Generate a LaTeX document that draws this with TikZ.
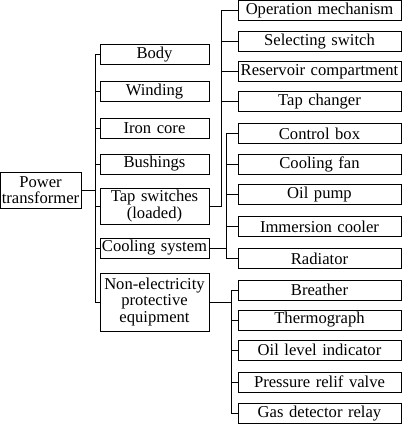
\documentclass[tikz,border=0pt]{standalone}
\usepackage{fontspec}
\setmainfont{Liberation Serif}
\usepackage{tikz}

\begin{document}
\begin{tikzpicture}[x=1pt, y=-1pt, line width=1pt,
    part/.style={draw, inner sep=0pt, align=center, font=\fontsize{16.6}{16.5}\selectfont},
    mid/.style={part, text width=109pt, minimum height=20pt},
    leaf/.style={part, text width=163pt, minimum height=20pt}]
    \useasboundingbox (0,0) rectangle (402,425);

    % Root
    \node[part, text width=81pt, minimum height=36pt] (root) at (40.5,190) {Power\\transformer};

    % Main parts
    \node[mid] (body) at (154.5,55) {Body};
    \node[mid] (winding) at (154.5,92) {Winding};
    \node[mid] (core) at (154.5,128) {Iron core};
    \node[mid] (bushings) at (154.5,164) {Bushings};
    \node[mid, minimum height=36pt] (tapsw) at (154.5,206) {Tap switches\\(loaded)};
    \node[mid] (cooling) at (154.5,248) {Cooling system};
    \node[mid, minimum height=58pt] (nonel) at (154.5,302) {Non-electricity\\protective\\equipment};

    % Tap switch parts
    \node[leaf] (opmech) at (319.5,11) {Operation mechanism};
    \node[leaf] (selsw) at (319.5,42) {Selecting switch};
    \node[leaf] (reservoir) at (319.5,71.5) {Reservoir compartment};
    \node[leaf] (tapch) at (319.5,101.5) {Tap changer};

    % Cooling parts
    \node[leaf] (ctrlbox) at (319.5,133.5) {Control box};
    \node[leaf] (fan) at (319.5,164.5) {Cooling fan};
    \node[leaf] (pump) at (319.5,194.5) {Oil pump};
    \node[leaf] (immersion) at (319.5,226.5) {Immersion cooler};
    \node[leaf] (radiator) at (319.5,258.5) {Radiator};

    % Protective parts
    \node[leaf] (breather) at (319.5,290) {Breather};
    \node[leaf] (thermo) at (319.5,320) {Thermograph};
    \node[leaf] (oillevel) at (319.5,350) {Oil level indicator};
    \node[leaf] (pressure) at (319.5,382) {Pressure relif valve};
    \node[leaf] (gas) at (319.5,413.5) {Gas detector relay};

    % Buses
    \coordinate (trunk) at (95,0);
    \coordinate (tapbus) at (221,0);
    \coordinate (coolbus) at (226,0);
    \coordinate (protbus) at (231,0);

    \draw (root.east) -- (trunk|-root.east);
    \draw (trunk|-body.west) -- (trunk|-nonel.west);
    \foreach \n in {body,winding,core,bushings,tapsw,cooling,nonel}
        \draw (trunk|-\n.west) -- (\n.west);

    \draw (tapsw.east) -- (tapbus|-tapsw.east) -- (tapbus|-opmech.west);
    \foreach \n in {opmech,selsw,reservoir,tapch}
        \draw (tapbus|-\n.west) -- (\n.west);

    \draw (cooling.east) -- (coolbus|-cooling.east);
    \draw (coolbus|-ctrlbox.west) -- (coolbus|-radiator.west);
    \foreach \n in {ctrlbox,fan,pump,immersion,radiator}
        \draw (coolbus|-\n.west) -- (\n.west);

    \draw (nonel.east) -- (protbus|-nonel.east);
    \draw (protbus|-breather.west) -- (protbus|-gas.west);
    \foreach \n in {breather,thermo,oillevel,pressure,gas}
        \draw (protbus|-\n.west) -- (\n.west);
\end{tikzpicture}
\end{document}
